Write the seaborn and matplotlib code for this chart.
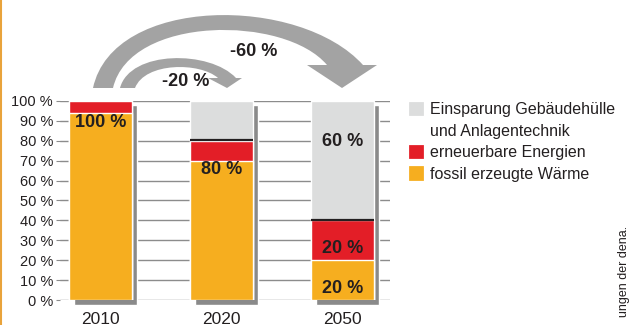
import matplotlib
matplotlib.use("Agg")
import matplotlib.pyplot as plt
import seaborn as sns
import pandas as pd
from matplotlib.path import Path
from matplotlib.patches import PathPatch, Patch
from matplotlib.transforms import Affine2D, ScaledTranslation
from matplotlib.lines import Line2D

# data
years = ["2010", "2020", "2050"]
fossil = [94, 70, 20]
renewable = [6, 10, 20]
savings = [0, 20, 60]
series_names = ["Einsparung Gebäudehülle", "und Anlagentechnik",
                "erneuerbare Energien", "fossil erzeugte Wärme"]
bar_labels = ["100 %", "80 %", "60 %", "20 %", "20 %"]
bar_label_x = ["2010", "2020", "2050", "2050", "2050"]
bar_label_y = [89, 65.5, 79.5, 26, 6]
arrow_labels = ["-20 %", "-60 %"]

c_fossil = "#f6ae1f"
c_renew = "#e31e27"
c_save = "#dcdddd"
c_shadow = "#8a8a8a"
c_arrow = "#a3a3a3"

sns.set_style("white")
plt.rcParams["font.family"] = ["Liberation Sans", "DejaVu Sans"]

W, H = 633, 325
fig = plt.figure(figsize=(W / 100, H / 100), dpi=100)
ax = fig.add_axes([60 / W, 25 / H, 330 / W, 199 / H])

df = pd.DataFrame({"year": years, "fossil": fossil, "renewable": renewable,
                   "savings": savings})
df["lower"] = df["fossil"] + df["renewable"]
df["total"] = df["lower"] + df["savings"]

bw = 0.52
# shadow behind each column
sns.barplot(data=df, x="year", y="total", color=c_shadow, width=bw,
            saturation=1, ax=ax, zorder=2)
shadow_patches = list(ax.patches)
off = ScaledTranslation(5 / 100, -4.5 / 100, fig.dpi_scale_trans)
for p in shadow_patches:
    p.set_transform(ax.transData + off)
    p.set_clip_on(False)

sns.barplot(data=df, x="year", y="total", color=c_save, width=bw,
            saturation=1, ax=ax, zorder=3)
sns.barplot(data=df, x="year", y="lower", color=c_renew, width=bw,
            saturation=1, ax=ax, zorder=4)
sns.barplot(data=df, x="year", y="fossil", color=c_fossil, width=bw,
            saturation=1, ax=ax, zorder=5)

# dark edge on top of the red part where savings start
for i, row in df.iterrows():
    if row["savings"] > 0:
        ax.hlines(row["lower"] + 0.4, i - bw / 2, i + bw / 2, color="#231f20",
                  lw=1.6, zorder=6)

for txt, xc, yv in zip(bar_labels, bar_label_x, bar_label_y):
    ax.text(years.index(xc), yv, txt, ha="center", va="center",
            fontsize=13, fontweight="bold", color="#231f20", zorder=7)

ax.set_xlim(-0.335, 2.393)
ax.set_ylim(0, 100)
ax.set_yticks(range(0, 101, 10))
ax.set_yticklabels([f"{v} %" for v in range(0, 101, 10)])
ax.yaxis.grid(True, color="#8c8c8c", lw=1)
ax.set_axisbelow(True)
ax.tick_params(axis="y", left=True, length=3, width=0.8, color="#8c8c8c",
               labelsize=10.5, pad=2, labelcolor="#231f20")
ax.tick_params(axis="x", bottom=False, labelsize=12.5, pad=5,
               labelcolor="#231f20")
ax.set_xlabel("")
ax.set_ylabel("")
sns.despine(ax=ax, left=True, bottom=True)

# legend
handles = [Patch(facecolor=c_save, edgecolor=c_save, lw=2, joinstyle="round"),
           Patch(facecolor="none", edgecolor="none"),
           Patch(facecolor=c_renew, edgecolor=c_renew, lw=2, joinstyle="round"),
           Patch(facecolor=c_fossil, edgecolor=c_fossil, lw=2, joinstyle="round")]
fig.legend(handles, series_names, loc="upper left",
           bbox_to_anchor=(404 / W, 1 - 96 / H), frameon=False,
           fontsize=11.5, handlelength=0.7, handleheight=0.7,
           handletextpad=0.5, labelspacing=0.4, borderaxespad=0,
           labelcolor="#231f20")

# curved arrows in pixel coordinates (y measured from top)
pix = Affine2D().scale(1 / W, -1 / H).translate(0, 1) + fig.transFigure


def arrow(outer, inner, head):
    verts = [outer[0], outer[1], outer[2], outer[3],
             head[0], head[1], head[2], head[3],
             inner[1], inner[2], inner[3], outer[0]]
    codes = [Path.MOVETO, Path.CURVE4, Path.CURVE4, Path.CURVE4,
             Path.LINETO, Path.LINETO, Path.LINETO, Path.LINETO,
             Path.CURVE4, Path.CURVE4, Path.CURVE4, Path.CLOSEPOLY]
    fig.patches.append(PathPatch(Path(verts, codes), facecolor=c_arrow,
                                 edgecolor="none", transform=pix))


arrow([(93, 88), (113, -5), (300, -5), (363, 65)],
      [(327, 65), (285, 15), (130, 15), (113, 88)],
      [(377, 65), (342, 88), (307, 65), (327, 65)])
arrow([(120, 88), (130, 50), (210, 50), (236, 78)],
      [(218, 78), (200, 62), (145, 62), (135, 88)],
      [(242, 78), (227, 88), (208, 78), (218, 78)])

fig.text(186 / W, 1 - 82 / H, arrow_labels[0], ha="center", va="center",
         fontsize=13, fontweight="bold", color="#231f20")
fig.text(254 / W, 1 - 51 / H, arrow_labels[1], ha="center", va="center",
         fontsize=13, fontweight="bold", color="#231f20")

# orange border line and cut-off source note
fig.add_artist(Line2D([1 / W, 1 / W], [0, 1], color="#e9a33b", lw=1.5,
                      transform=fig.transFigure))
fig.text(624 / W, 1 - 226 / H, "ungen der dena.", rotation=90, ha="center",
         va="top", fontsize=9, color="#231f20")

fig.savefig("out.png", dpi=100)
